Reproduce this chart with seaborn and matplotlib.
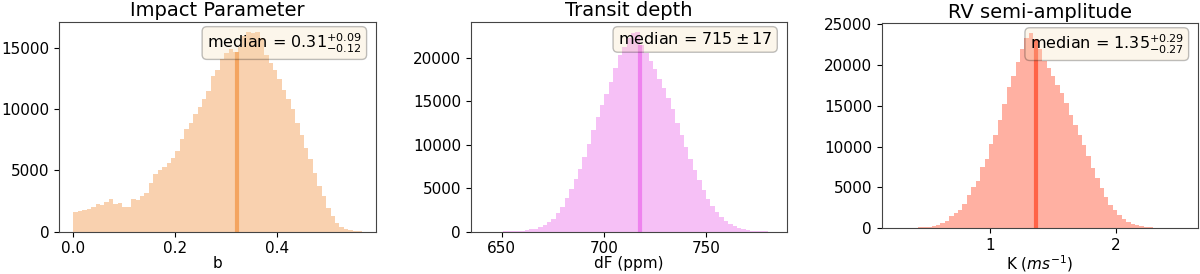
import numpy as np
import pandas as pd
import matplotlib
matplotlib.use("Agg")
import matplotlib.pyplot as plt
import seaborn as sns
from matplotlib.ticker import MultipleLocator

# posterior histograms (65 bins each), counts
b_range = (0.0, 0.565)
b_counts = [1600, 1720, 1750, 1850, 2000, 2300, 2200, 2450, 2700, 2300,
            2350, 2050, 2050, 2650, 2550, 2900, 3150, 4000, 4700, 5000,
            5300, 5600, 6000, 6600, 7600, 8400, 8900, 9600, 10200, 10800,
            11500, 12700, 13200, 14100, 14600, 14900, 14700, 15100, 16000, 16300,
            16200, 16300, 15800, 14400, 13800, 13200, 12500, 11600, 10800, 10000,
            8900, 7900, 6800, 5900, 4800, 3700, 2900, 1950, 1300, 750,
            400, 220, 120, 60, 20]

depth_range = (641.9, 782.6)
depth_counts = [3, 5, 10, 15, 25, 40, 60, 90, 130, 200,
                280, 350, 500, 750, 1100, 1500, 2100, 2800, 3900, 4900,
                6100, 7200, 8600, 10100, 11700, 13200, 14600, 15900, 17200, 18800,
                20300, 21300, 22300, 22900, 23000, 21500, 20600, 19700, 18700, 17600,
                16500, 15400, 14100, 12500, 11100, 9700, 8400, 7100, 5900, 4800,
                3800, 3000, 2300, 1700, 1250, 900, 620, 440, 300, 200,
                130, 80, 50, 30, 20]

K_range = (0.2546, 2.537)
K_counts = [10, 20, 30, 50, 70, 100, 140, 200, 300, 450,
            600, 950, 1500, 1900, 2200, 3000, 4100, 5100, 5800, 7500,
            8500, 10300, 11400, 13300, 15200, 17300, 18700, 20400, 22000, 23300,
            23900, 23200, 22000, 20500, 19600, 18600, 17500, 16600, 15300, 13900,
            12600, 11400, 10200, 8800, 7400, 6100, 4900, 3800, 2900, 2200,
            1600, 1150, 800, 550, 360, 250, 170, 120, 80, 50,
            40, 30, 20, 10, 10]

titles = ["Impact Parameter", "Transit depth", "RV semi-amplitude"]
xlabels = ["b", "dF (ppm)", r"K ($ms^{-1}$)"]
median_line = [0.321, 718.0, 1.363]
median_text = [r"median = $0.31^{+0.09}_{-0.12}$",
               r"median = $715 \pm 17$",
               r"median = $1.35^{+0.29}_{-0.27}$"]
colors = ["sandybrown", "violet", "tomato"]
x_steps = [0.2, 50, 1]

fig = plt.figure(figsize=(12, 2.74), dpi=100)
positions = [[0.0492, 0.1544, 0.2642, 0.7653],
             [0.3923, 0.1544, 0.2633, 0.7653],
             [0.7348, 0.1668, 0.2636, 0.7482]]

data = [(b_range, b_counts), (depth_range, depth_counts), (K_range, K_counts)]

for i, ((lo, hi), counts) in enumerate(data):
    ax = fig.add_axes(positions[i])
    counts = np.array(counts, dtype=float)
    edges = np.linspace(lo, hi, len(counts) + 1)
    df = pd.DataFrame({"x": (edges[:-1] + edges[1:]) / 2, "n": counts})
    sns.histplot(data=df, x="x", weights="n", bins=edges.tolist(), color=colors[i],
                 alpha=0.5, linewidth=0, ax=ax)
    # median line up to the bar it falls in
    k = np.searchsorted(edges, median_line[i]) - 1
    ax.vlines(median_line[i], 0, counts[k], color=colors[i], lw=3)
    ax.text(0.955, 0.955, median_text[i], transform=ax.transAxes, fontsize=11.5,
            ha="right", va="top",
            bbox=dict(boxstyle="round", facecolor="wheat", alpha=0.25))
    ax.set_title(titles[i], fontsize=14, pad=4)
    ax.set_xlabel(xlabels[i], fontsize=11, labelpad=0)
    ax.set_ylabel("")
    ax.xaxis.set_major_locator(MultipleLocator(x_steps[i]))
    ax.yaxis.set_major_locator(MultipleLocator(5000))
    ax.tick_params(labelsize=11)
    for s in ax.spines.values():
        s.set_color("#444444")

plt.savefig("out.png", dpi=100)
plt.close()
